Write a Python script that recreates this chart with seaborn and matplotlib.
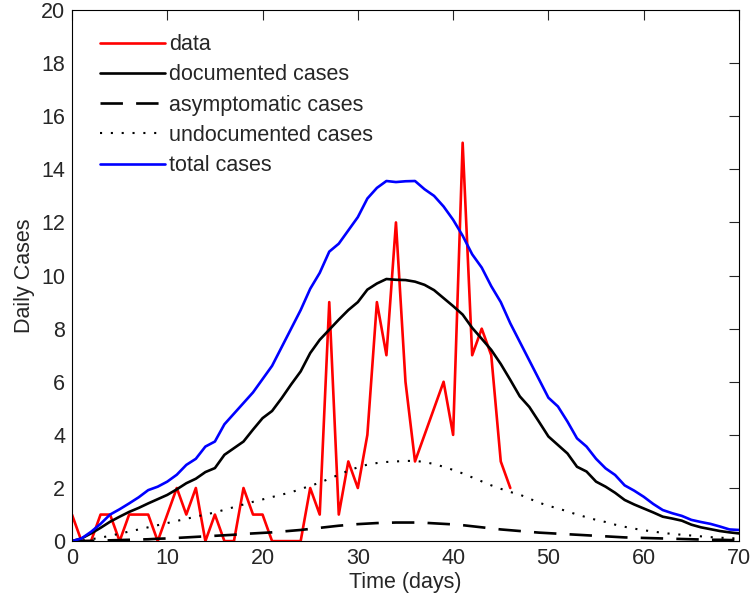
import numpy as np
import pandas as pd
import matplotlib
matplotlib.use("Agg")
import matplotlib.pyplot as plt
import seaborn as sns

# observed daily cases (days 0..46)
data_days = list(range(0, 47))
data_cases = [1, 0, 0, 1, 1, 0, 1, 1, 1, 0, 1, 2, 1, 2, 0, 1, 0, 0, 2, 1,
              1, 0, 0, 0, 0, 2, 1, 9, 1, 3, 2, 4, 9, 7, 12, 6, 3, 4, 5, 6,
              4, 15, 7, 8, 7, 3, 2]

# model curves (days 0..70)
model_days = list(range(0, 71))
documented = [0.0, 0.1, 0.29, 0.5, 0.73, 0.92, 1.1, 1.25, 1.42, 1.58,
              1.74, 1.95, 2.18, 2.35, 2.6, 2.75, 3.25, 3.5, 3.75, 4.2,
              4.63, 4.9, 5.38, 5.9, 6.39, 7.08, 7.58, 7.96, 8.34, 8.7,
              9.0, 9.47, 9.7, 9.87, 9.84, 9.83, 9.77, 9.65, 9.45, 9.15,
              8.85, 8.53, 8.03, 7.62, 7.2, 6.67, 6.07, 5.45, 5.05, 4.5,
              3.94, 3.62, 3.3, 2.8, 2.62, 2.24, 2.05, 1.82, 1.55, 1.38,
              1.23, 1.08, 0.92, 0.85, 0.77, 0.62, 0.52, 0.45, 0.38, 0.33,
              0.29]
asymptomatic = [0.0, 0.0, 0.01, 0.02, 0.03, 0.04, 0.05, 0.06, 0.07, 0.09,
                0.1, 0.12, 0.14, 0.16, 0.18, 0.2, 0.22, 0.24, 0.27, 0.29,
                0.31, 0.33, 0.36, 0.39, 0.42, 0.46, 0.5, 0.54, 0.58, 0.61,
                0.64, 0.66, 0.68, 0.69, 0.7, 0.7, 0.7, 0.69, 0.67, 0.65,
                0.63, 0.6, 0.56, 0.52, 0.48, 0.44, 0.41, 0.38, 0.35, 0.32,
                0.3, 0.28, 0.26, 0.24, 0.22, 0.2, 0.18, 0.16, 0.14, 0.13,
                0.12, 0.11, 0.1, 0.09, 0.08, 0.07, 0.06, 0.05, 0.05, 0.04,
                0.04]
undocumented = [0.0, 0.02, 0.07, 0.13, 0.2, 0.28, 0.36, 0.44, 0.52, 0.6,
                0.68, 0.76, 0.84, 0.92, 1.0, 1.08, 1.18, 1.28, 1.38, 1.48,
                1.57, 1.66, 1.75, 1.84, 1.96, 2.08, 2.2, 2.35, 2.5, 2.65,
                2.78, 2.88, 2.94, 2.98, 3.0, 3.02, 3.02, 2.98, 2.9, 2.8,
                2.68, 2.55, 2.4, 2.25, 2.1, 1.97, 1.85, 1.75, 1.6, 1.45,
                1.33, 1.23, 1.12, 1.0, 0.9, 0.8, 0.72, 0.62, 0.54, 0.47,
                0.41, 0.36, 0.31, 0.27, 0.24, 0.21, 0.18, 0.15, 0.13, 0.11,
                0.1]
total = [0.0, 0.1, 0.35, 0.65, 1.0, 1.2, 1.42, 1.65, 1.92, 2.05,
         2.24, 2.5, 2.87, 3.1, 3.56, 3.75, 4.4, 4.8, 5.2, 5.6,
         6.1, 6.6, 7.3, 8.0, 8.7, 9.5, 10.1, 10.9, 11.2, 11.7,
         12.2, 12.9, 13.3, 13.56, 13.52, 13.55, 13.56, 13.25, 13.0, 12.6,
         12.1, 11.5, 10.8, 10.3, 9.6, 9.0, 8.2, 7.5, 6.8, 6.1,
         5.4, 5.07, 4.5, 3.87, 3.56, 3.1, 2.74, 2.49, 2.1, 1.9,
         1.67, 1.4, 1.17, 1.05, 0.95, 0.8, 0.72, 0.65, 0.55, 0.44,
         0.42]

sns.set_style("white")
plt.rcParams['font.family'] = ['Liberation Sans', 'DejaVu Sans']

fig = plt.figure(figsize=(7.56, 6.08), dpi=100)
ax = fig.add_axes([0.0952, 0.110, 0.8823, 0.8736])

model = pd.DataFrame({'day': model_days, 'documented': documented,
                      'asymptomatic': asymptomatic,
                      'undocumented': undocumented, 'total': total})
obs = pd.DataFrame({'day': data_days, 'cases': data_cases})

lw = 1.9
sns.lineplot(data=obs, x='day', y='cases', color='#ff0000', lw=lw,
             label='data', ax=ax)
sns.lineplot(data=model, x='day', y='documented', color='black', lw=lw,
             label='documented cases', ax=ax)
sns.lineplot(data=model, x='day', y='asymptomatic', color='black', lw=lw,
             label='asymptomatic cases', ax=ax)
ax.lines[-1].set_dashes([8.5, 5])
sns.lineplot(data=model, x='day', y='undocumented', color='black', lw=1.5,
             label='undocumented cases', ax=ax)
ax.lines[-1].set_linestyle((0, (1, 4.2)))
sns.lineplot(data=model, x='day', y='total', color='#0000ff', lw=lw,
             label='total cases', ax=ax)

ax.set_xlim(0, 70)
ax.set_ylim(0, 20)
ax.set_xticks(range(0, 71, 10))
ax.set_yticks(range(0, 21, 2))
ax.tick_params(direction='in', top=True, right=True, labelsize=15.5,
               length=7, width=0.8, pad=5)
for s in ax.spines.values():
    s.set_visible(True)
    s.set_color('black')
    s.set_linewidth(0.8)
ax.set_xlabel('Time (days)', fontsize=15.5, labelpad=2)
ax.set_ylabel('Daily Cases', fontsize=15.5, labelpad=4)

ax.legend(loc='upper left', frameon=False, fontsize=15.5, handlelength=3.0,
          handletextpad=0.2, labelspacing=0.43, borderaxespad=0.3,
          bbox_to_anchor=(0.02, 0.983))

fig.savefig('out.png', dpi=100)
